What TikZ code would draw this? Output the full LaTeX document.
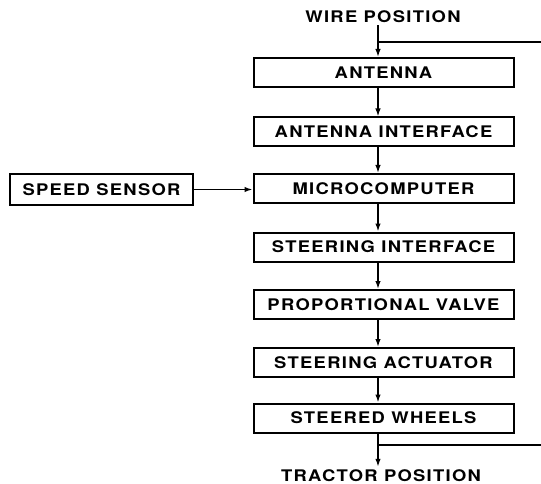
\documentclass[tikz,border=0pt]{standalone}
\usepackage{fontspec}
\setmainfont{TeX Gyre Heros}[BoldFont={* Bold},BoldFeatures={FakeStretch=1.15,LetterSpace=8}]
\usetikzlibrary{arrows.meta,calc}
\begin{document}
\begin{tikzpicture}[x=1pt,y=-1pt,
  blk/.style={draw,line width=2pt,minimum width=260pt,minimum height=29pt,inner sep=0pt,font=\fontsize{16}{18}\bfseries},
  lbl/.style={font=\fontsize{16}{18}\bfseries,inner sep=0pt},
  flow/.style={line width=1.5pt,-{Latex[length=8pt,width=5.5pt]}},
  ln/.style={line width=1.5pt}]
\useasboundingbox (0,0) rectangle (541,484);
\coordinate (spine) at (378,0);
\node[lbl] (wire) at (383,17) {WIRE POSITION};
\node[blk] (ant) at (383.5,72.5) {ANTENNA};
\node[blk] (ai) at (383.5,132) {ANTENNA INTERFACE};
\node[blk] (mc) at (383.5,188.5) {MICROCOMPUTER};
\node[blk] (si) at (383.5,247) {STEERING INTERFACE};
\node[blk] (pv) at (383.5,304.5) {PROPORTIONAL VALVE};
\node[blk] (sa) at (383.5,362.5) {STEERING ACTUATOR};
\node[blk] (sw) at (383.5,418) {STEERED WHEELS};
\node[blk,minimum width=183pt,minimum height=31pt] (ss) at (101.5,189.5) {SPEED SENSOR};
\node[lbl] (tp) at (381,476) {TRACTOR POSITION};
\coordinate (topbr) at (378,42);
\coordinate (topend) at (541,42);
\coordinate (botbr) at (378,445);
\coordinate (botend) at (541,445);
\draw[flow] (wire.south -| spine) ++(0,2) -- (ant.north -| spine);
\draw[ln] (topbr) -- (topend);
\draw[flow] (ant.south -| spine) -- (ai.north -| spine);
\draw[flow] (ai.south -| spine) -- (mc.north -| spine);
\draw[flow] (mc.south -| spine) -- (si.north -| spine);
\draw[flow] (si.south -| spine) -- (pv.north -| spine);
\draw[flow] (pv.south -| spine) -- (sa.north -| spine);
\draw[flow] (sa.south -| spine) -- (sw.north -| spine);
\draw[flow] (sw.south -| spine) -- ($(tp.north -| spine)+(0,-3)$);
\draw[ln] (botbr) -- (botend);
\draw[flow] (ss.east |- mc.west) ++(0,1) -- ($(mc.west)+(0,1)$);
\end{tikzpicture}
\end{document}
